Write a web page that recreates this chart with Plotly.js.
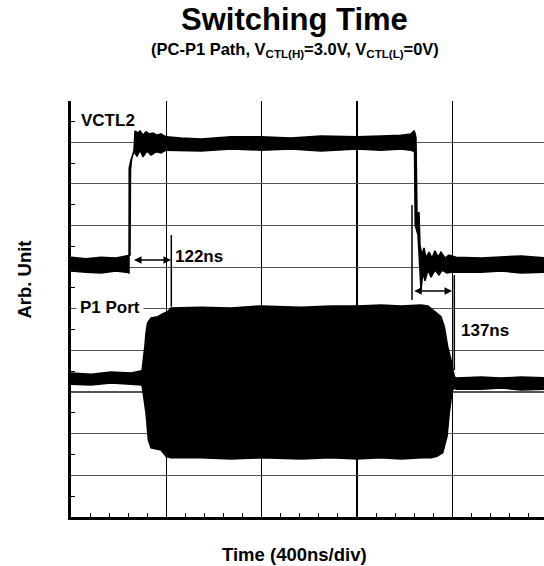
<!DOCTYPE html>
<html>
<head>
<meta charset="utf-8">
<script src="https://cdn.plot.ly/plotly-3.0.1.min.js"></script>
<style>html,body{margin:0;padding:0;background:#fff;}#chart{width:544px;height:566px;}</style>
</head>
<body>
<div id="chart"></div>
<script>
// ---- Data (time in ns, amplitude in divisions) ----
// VCTL2 trace: upper and lower edge of the noisy band
const vctlUpperT = [0, 62.9, 125.9, 188.8, 230.8, 247.6, 249.7, 253.9, 264.3, 268.5, 281.1, 289.5, 302.1, 314.7, 327.3, 344.1, 360.9, 377.6, 398.6, 461.6, 545.5, 671.4, 797.2, 923.1, 1049, 1200, 1300.8, 1384.7, 1426.6, 1439.2, 1443.4, 1447.6, 1451.8, 1460.2, 1464.4, 1472.8, 1481.2, 1489.6, 1502.2, 1514.8, 1527.3, 1539.9, 1552.5, 1569.3, 1586.1, 1615.5, 1720.4, 1804.3, 1888.2, 2001.5];
const vctlUpperV = [6.24, 6.20, 6.24, 6.22, 6.27, 6.29, 8.33, 8.58, 8.81, 9.27, 9.22, 9.27, 9.17, 9.25, 9.20, 9.22, 9.17, 9.20, 9.13, 9.10, 9.08, 9.13, 9.13, 9.10, 9.15, 9.13, 9.15, 9.17, 9.20, 9.27, 9.22, 9.10, 7.25, 7.32, 6.53, 6.29, 6.46, 6.22, 6.36, 6.22, 6.39, 6.24, 6.36, 6.22, 6.29, 6.24, 6.22, 6.24, 6.27, 6.22];
const vctlLowerT = [0, 62.9, 125.9, 188.8, 230.8, 243.4, 244.2, 251.8, 264.3, 276.9, 289.5, 302.1, 318.9, 335.7, 356.7, 377.6, 398.6, 461.6, 545.5, 671.4, 797.2, 923.1, 1049, 1200, 1300.8, 1384.7, 1426.6, 1441.3, 1444.2, 1456, 1462.3, 1468.6, 1477, 1485.4, 1498, 1510.6, 1527.3, 1544.1, 1556.7, 1577.7, 1594.5, 1720.4, 1804.3, 1888.2, 2001.5];
const vctlLowerV = [5.91, 5.88, 5.86, 5.91, 5.88, 5.86, 8.38, 8.58, 8.77, 8.67, 8.81, 8.65, 8.79, 8.69, 8.77, 8.74, 8.81, 8.81, 8.79, 8.84, 8.81, 8.84, 8.79, 8.84, 8.81, 8.84, 8.81, 8.77, 7.01, 6.77, 6.17, 5.45, 5.88, 5.67, 5.93, 5.76, 5.93, 5.81, 5.93, 5.86, 5.88, 5.88, 5.91, 5.86, 5.88];

// P1 Port trace: envelope of the RF burst
const p1UpperT = [0, 83.9, 167.8, 251.8, 297.9, 304.2, 310.5, 314.7, 321, 335.7, 363.8, 386, 405.8, 419.6, 545.5, 671.4, 797.2, 965.1, 1091, 1200, 1300.8, 1384.7, 1468.6, 1498, 1517.7, 1535.7, 1552.5, 1566.3, 1580.6, 1594.5, 1608.3, 1615.5, 1720.4, 1804.3, 1888.2, 2001.5];
const p1UpperV = [3.46, 3.43, 3.48, 3.46, 3.51, 3.77, 4.13, 4.42, 4.66, 4.78, 4.81, 4.88, 4.93, 5.02, 5.04, 5.02, 5.07, 5.04, 5.07, 5.07, 5.09, 5.07, 5.09, 5.07, 4.97, 4.90, 4.81, 4.57, 4.09, 3.77, 3.37, 3.34, 3.36, 3.34, 3.36, 3.34];
const p1LowerT = [0, 83.9, 167.8, 251.8, 297.9, 304.2, 310.5, 314.7, 324.4, 335.7, 377.6, 399.9, 419.6, 545.5, 671.4, 797.2, 965.1, 1091, 1200, 1300.8, 1384.7, 1475.7, 1510.6, 1535.7, 1559.6, 1577.7, 1587.3, 1594.5, 1601.6, 1608.3, 1615.5, 1720.4, 1804.3, 1888.2, 2001.5];
const p1LowerV = [3.19, 3.17, 3.22, 3.19, 3.17, 2.93, 2.69, 2.50, 1.85, 1.66, 1.61, 1.45, 1.42, 1.42, 1.39, 1.42, 1.39, 1.42, 1.39, 1.42, 1.39, 1.42, 1.42, 1.46, 1.54, 1.93, 2.50, 2.81, 3.05, 3.10, 3.07, 3.07, 3.10, 3.05, 3.07];

// Measurement cursors (time, bottom, top) and delay arrows
const cursorT  = [420.9, 1430.8, 1608.3];
const cursorLo = [5.05, 5.21, 3.53];
const cursorHi = [6.77, 7.49, 5.81];
const delayFrom = [258, 1433.8];
const delayTo   = [419.6, 1598.7];
const delayLvl  = [6.17, 5.43];
const delayLabels = ['122ns', '137ns'];
const delayLabelT = [428, 1628];
const delayLabelV = [6.26, 4.49];

const traceNames = ['VCTL2', 'P1 Port'];
const traceLabelT = [24, 22];
const traceLabelV = [9.51, 5.04];

const FONT = 'Arial, "Liberation Sans", sans-serif';

function band(ut, uv, lt, lv, name) {
  return {
    type: 'scatter', mode: 'lines', name: name,
    x: ut.concat(lt.slice().reverse()),
    y: uv.concat(lv.slice().reverse()),
    fill: 'toself', fillcolor: '#000',
    line: {color: '#000', width: 1.5},
    hoverinfo: 'skip'
  };
}

const data = [
  band(vctlUpperT, vctlUpperV, vctlLowerT, vctlLowerV, traceNames[0]),
  band(p1UpperT, p1UpperV, p1LowerT, p1LowerV, traceNames[1])
];

const shapes = cursorT.map((t, i) => ({
  type: 'line', xref: 'x', yref: 'y', x0: t, x1: t, y0: cursorLo[i], y1: cursorHi[i],
  line: {color: '#000', width: 1.5}
}));

const annotations = [];
delayFrom.forEach((f, i) => {
  annotations.push({
    xref: 'x', yref: 'y', axref: 'x', ayref: 'y',
    x: delayTo[i], y: delayLvl[i], ax: f, ay: delayLvl[i],
    text: '', showarrow: true, arrowside: 'end+start', arrowhead: 2,
    arrowsize: 1, arrowwidth: 1.5, arrowcolor: '#000', standoff: 0, startstandoff: 0
  });
  annotations.push({
    xref: 'x', yref: 'y', x: delayLabelT[i], y: delayLabelV[i],
    text: '<b>' + delayLabels[i] + '</b>', showarrow: false,
    xanchor: 'left', yanchor: 'middle',
    font: {family: FONT, size: 17, color: '#000'}
  });
});
traceNames.forEach((n, i) => {
  annotations.push({
    xref: 'x', yref: 'y', x: traceLabelT[i], y: traceLabelV[i],
    text: '<b>' + n + '</b>', showarrow: false,
    xanchor: 'left', yanchor: 'middle',
    bgcolor: i === 1 ? '#fff' : 'rgba(0,0,0,0)', borderpad: 3,
    font: {family: FONT, size: 17, color: '#000'}
  });
});
// titles
annotations.push({xref: 'paper', yref: 'paper', x: 0.4726, y: 1.1955, xanchor: 'center', yanchor: 'middle',
  text: '<b>Switching Time</b>', showarrow: false, font: {family: FONT, size: 31, color: '#000'}});
annotations.push({xref: 'paper', yref: 'paper', x: 0.4726, y: 1.1235, xanchor: 'center', yanchor: 'middle',
  text: '<b>(PC-P1 Path, V<sub>CTL(H)</sub>=3.0V, V<sub>CTL(L)</sub>=0V)</b>', showarrow: false,
  font: {family: FONT, size: 16.5, color: '#000'}});
annotations.push({xref: 'paper', yref: 'paper', x: 0.4726, y: -0.0913, xanchor: 'center', yanchor: 'middle',
  text: '<b>Time (400ns/div)</b>', showarrow: false, font: {family: FONT, size: 18.5, color: '#000'}});
annotations.push({xref: 'paper', yref: 'paper', x: -0.1002, y: 0.5697, xanchor: 'center', yanchor: 'middle',
  text: '<b>Arb. Unit</b>', textangle: -90, showarrow: false, font: {family: FONT, size: 18.5, color: '#000'}});

const layout = {
  width: 544, height: 566,
  margin: {l: 71, r: 0, t: 101, b: 49, pad: 0},
  paper_bgcolor: '#fff', plot_bgcolor: '#fff',
  showlegend: false,
  xaxis: {
    range: [0, 1984.7], tick0: 0, dtick: 400,
    showgrid: true, gridcolor: '#000', gridwidth: 1.5,
    zeroline: false, showline: true, linecolor: '#000', linewidth: 3,
    ticks: '', showticklabels: false, fixedrange: true,
    minor: {tick0: 0, dtick: 80, ticks: 'inside', ticklen: 4, tickwidth: 1, tickcolor: '#000', showgrid: false}
  },
  yaxis: {
    range: [0, 9.99], tick0: 0, dtick: 1,
    showgrid: true, gridcolor: '#555', gridwidth: 1.2,
    zeroline: false, showline: true, linecolor: '#000', linewidth: 3,
    ticks: '', showticklabels: false, fixedrange: true,
    minor: {tick0: 0, dtick: 0.5, ticks: 'inside', ticklen: 4, tickwidth: 1, tickcolor: '#000', showgrid: false}
  },
  shapes: shapes,
  annotations: annotations
};

Plotly.newPlot('chart', data, layout, {displayModeBar: false, staticPlot: true});
</script>
</body>
</html>
